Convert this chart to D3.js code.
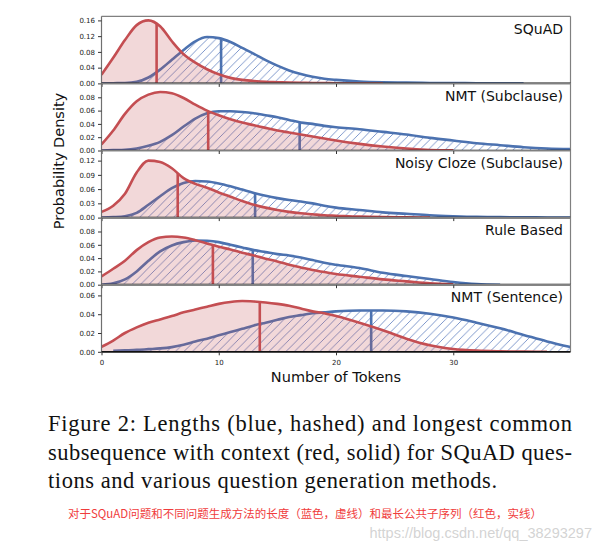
<!DOCTYPE html>
<html><head><meta charset="utf-8">
<script src="https://cdn.jsdelivr.net/npm/d3@7"></script>
<style>body{margin:0;background:#fff} svg{display:block}</style>
</head><body>
<svg id="c" width="599" height="544"></svg>
<script>
// ---------- data ----------
const tokens = [0,1,2,3,4,5,6,7,8,9,10,11,12,13,14,15,16,17,18,19,20,22,24,26,28,30,32,34,36,38,40];
const panelNames = ["SQuAD", "NMT (Subclause)", "Noisy Cloze (Subclause)", "Rule Based", "NMT (Sentence)"];

// Lengths (blue, hashed)
const squadLength   = [0,0.0005,0.001,0.004,0.015,0.035,0.06,0.085,0.107,0.118,0.115,0.105,0.09,0.075,0.059,0.045,0.033,0.024,0.017,0.012,0.009,0.005,0.003,0.002,0.0012,0.0008,0.0005,0.0003,0.0001,null,null];
const nmtSubLength  = [0,0.0005,0.001,0.003,0.007,0.013,0.023,0.036,0.048,0.056,0.059,0.059,0.058,0.056,0.053,0.05,0.046,0.042,0.04,0.037,0.035,0.032,0.028,0.024,0.019,0.015,0.011,0.008,0.005,0.003,0.002];
const clozeLength   = [0,0.001,0.003,0.01,0.027,0.045,0.062,0.073,0.077,0.076,0.072,0.066,0.059,0.052,0.046,0.041,0.037,0.034,0.03,0.025,0.021,0.016,0.011,0.008,0.005,0.003,0.0015,0.001,0.0005,0.0003,0.0002];
const ruleLength    = [0,0.002,0.008,0.02,0.036,0.05,0.059,0.064,0.0665,0.066,0.064,0.06,0.056,0.052,0.049,0.046,0.044,0.041,0.037,0.033,0.03,0.025,0.018,0.013,0.0085,0.004,0.001,0,null,null,null];
const nmtSentLength = [null,0.001,0.0015,0.002,0.0028,0.0036,0.005,0.0075,0.011,0.014,0.0175,0.021,0.0245,0.028,0.031,0.034,0.037,0.039,0.041,0.042,0.043,0.044,0.044,0.043,0.0405,0.0365,0.031,0.025,0.018,0.011,0.005];

// Longest common subsequence with context (red, solid)
const squadLcs   = [0.022,0.065,0.11,0.148,0.16,0.145,0.107,0.074,0.053,0.036,0.023,0.014,0.009,0.006,0.004,0.003,0.002,0.0015,0.001,0.0008,0.0005,0.0003,0.0001,null,null,null,null,null,null,null,null];
const nmtSubLcs  = [0.009,0.03,0.055,0.074,0.084,0.088,0.086,0.079,0.069,0.06,0.053,0.047,0.042,0.038,0.034,0.03,0.027,0.024,0.021,0.018,0.015,0.01,0.006,0.003,0.0008,0.0003,null,null,null,null,null];
const clozeLcs   = [0.012,0.025,0.05,0.095,0.12,0.117,0.104,0.083,0.071,0.063,0.053,0.044,0.035,0.027,0.021,0.016,0.012,0.009,0.007,0.005,0.004,0.002,0.001,0.0005,0.0002,null,null,null,null,null,null];
const ruleLcs    = [0.0125,0.024,0.036,0.052,0.064,0.071,0.0725,0.071,0.067,0.062,0.057,0.053,0.048,0.044,0.039,0.035,0.03,0.026,0.022,0.019,0.016,0.012,0.008,0.005,0.002,0.0005,null,null,null,null,null];
const nmtSentLcs = [0.0053,0.012,0.02,0.026,0.031,0.0345,0.038,0.042,0.045,0.048,0.051,0.053,0.054,0.0535,0.0525,0.051,0.049,0.046,0.043,0.041,0.038,0.031,0.023,0.014,0.007,0.003,0.0012,0.0005,0.0002,0.0001,null];

const lengthSeries = [squadLength, nmtSubLength, clozeLength, ruleLength, nmtSentLength];
const lcsSeries    = [squadLcs, nmtSubLcs, clozeLcs, ruleLcs, nmtSentLcs];
const lengthMedians = [10.2, 16.9, 13.1, 12.9, 23.0];
const lcsMedians    = [4.7, 9.1, 6.5, 9.5, 13.5];

const yMax   = [0.1704, 0.1009, 0.1413, 0.1009, 0.0714];
const yTicks = [[0,0.04,0.08,0.12,0.16],[0,0.02,0.04,0.06,0.08],[0,0.03,0.06,0.09,0.12],[0,0.02,0.04,0.06,0.08],[0,0.02,0.04,0.06]];
const xTicks = [0,10,20,30];

const captionLines = [
  "Figure 2: Lengths (blue, hashed) and longest common",
  "subsequence with context (red, solid) for SQuAD ques-",
  "tions and various question generation methods."
];
const noteText = "对于SQuAD问题和不同问题生成方法的长度（蓝色，虚线）和最长公共子序列（红色，实线）";
const watermark = "https://blog.csdn.net/qq_38293297";

// ---------- drawing ----------
const BLUE = "#4c72b0", RED = "#c44e52";
const svg = d3.select("#c");
const L = 101.5, R = 570.5, T = 16.3, H = 67.1;
const x = d3.scaleLinear().domain([0, 40]).range([L, R]);

const defs = svg.append("defs");
const pat = defs.append("pattern").attr("id", "hatch")
  .attr("patternUnits", "userSpaceOnUse").attr("width", 8.5).attr("height", 8.5);
pat.append("path").attr("d", "M-2,2 L2,-2 M0,8.5 L8.5,0 M6.5,10.5 L10.5,6.5")
  .attr("stroke", "#5577bb").attr("stroke-width", 0.75).attr("fill", "none");

function yOnPath(node, px) {
  const len = node.getTotalLength();
  let lo = 0, hi = len;
  for (let k = 0; k < 40; k++) {
    const mid = (lo + hi) / 2;
    if (node.getPointAtLength(mid).x < px) lo = mid; else hi = mid;
  }
  return node.getPointAtLength((lo + hi) / 2).y;
}

panelNames.forEach((name, i) => {
  const top = T + i * H, bottom = top + H;
  const y = d3.scaleLinear().domain([0, yMax[i]]).range([bottom, top]);
  const g = svg.append("g");
  defs.append("clipPath").attr("id", "clip" + i).append("rect")
    .attr("x", L).attr("y", top).attr("width", R - L).attr("height", H);
  const pg = g.append("g").attr("clip-path", `url(#clip${i})`);

  const mk = arr => tokens.map((t, j) => ({ t, v: arr[j] })).filter(d => d.v != null);
  const area = d3.area().x(d => x(d.t)).y0(bottom).y1(d => y(d.v)).curve(d3.curveMonotoneX);
  const line = d3.line().x(d => x(d.t)).y(d => y(d.v)).curve(d3.curveMonotoneX);

  const bl = mk(lengthSeries[i]), rd = mk(lcsSeries[i]);

  pg.append("path").datum(bl).attr("d", area).attr("fill", "url(#hatch)");
  const bLine = pg.append("path").datum(bl).attr("d", line)
    .attr("fill", "none").attr("stroke", BLUE).attr("stroke-width", 2.6);
  const bx = x(lengthMedians[i]);
  pg.append("line").attr("x1", bx).attr("x2", bx).attr("y1", bottom)
    .attr("y2", yOnPath(bLine.node(), bx)).attr("stroke", BLUE).attr("stroke-width", 2.6);

  pg.append("path").datum(rd).attr("d", area).attr("fill", RED).attr("fill-opacity", 0.22);
  const rLine = pg.append("path").datum(rd).attr("d", line)
    .attr("fill", "none").attr("stroke", RED).attr("stroke-width", 2.6);
  const rx = x(lcsMedians[i]);
  pg.append("line").attr("x1", rx).attr("x2", rx).attr("y1", bottom)
    .attr("y2", yOnPath(rLine.node(), rx)).attr("stroke", RED).attr("stroke-width", 2.6);

  // spines
  g.append("line").attr("x1", L).attr("x2", R).attr("y1", top).attr("y2", top).attr("stroke", "#808080").attr("stroke-width", 1.2);
  g.append("line").attr("x1", R).attr("x2", R).attr("y1", top).attr("y2", bottom).attr("stroke", "#808080").attr("stroke-width", 1.2);
  g.append("line").attr("x1", L).attr("x2", L).attr("y1", top).attr("y2", bottom).attr("stroke", "#707070").attr("stroke-width", 1.2);
  g.append("line").attr("x1", L).attr("x2", R).attr("y1", bottom).attr("y2", bottom).attr("stroke", "#111").attr("stroke-width", 1.7);

  // y axis
  const yAxis = d3.axisLeft(y).tickValues(yTicks[i]).tickFormat(d3.format(".2f")).tickSize(3.5).tickPadding(3);
  const ya = g.append("g").attr("transform", `translate(${L},0)`).call(yAxis);
  ya.select(".domain").remove();
  ya.selectAll("line").attr("stroke", "#333");
  ya.selectAll("text").attr("font-family", "DejaVu Sans").attr("font-size", 7).attr("fill", "#222");

  // x axis
  const xAxis = d3.axisBottom(x).tickValues(xTicks).tickSize(3.5).tickPadding(5);
  const xa = g.append("g").attr("transform", `translate(0,${bottom})`).call(xAxis);
  xa.select(".domain").remove();
  xa.selectAll("line").attr("stroke", "#333");
  xa.selectAll("text").attr("font-family", "DejaVu Sans").attr("font-size", 7).attr("fill", "#222")
    .style("display", i === panelNames.length - 1 ? null : "none");

  g.append("text").attr("x", 563).attr("y", top + 17.5).attr("text-anchor", "end")
    .attr("font-family", "DejaVu Sans").attr("font-size", 14).attr("fill", "#111").text(name);
});

svg.append("text").attr("transform", "translate(64,161) rotate(-90)").attr("text-anchor", "middle")
  .attr("font-family", "DejaVu Sans").attr("font-size", 14.5).attr("fill", "#111").text("Probability Density");
svg.append("text").attr("x", 336).attr("y", 382).attr("text-anchor", "middle")
  .attr("font-family", "DejaVu Sans").attr("font-size", 14.5).attr("fill", "#111").text("Number of Tokens");

const capY = [431, 459.5, 488];
const capLen = [524, 524, 449];
captionLines.forEach((t, k) => {
  svg.append("text").attr("x", 48).attr("y", capY[k])
    .attr("font-family", "Liberation Serif").attr("font-size", 22.5).attr("fill", "#111")
    .attr("textLength", capLen[k]).attr("lengthAdjust", "spacing").text(t);
});
svg.append("text").attr("x", 592).attr("y", 538).attr("text-anchor", "end")
  .attr("font-family", "Liberation Sans").attr("font-size", 14.5).attr("fill", "#c8c8c8").attr("fill-opacity", 0.8)
  .text(watermark);
svg.append("text").attr("x", 68).attr("y", 518)
  .attr("font-family", "Noto Sans CJK SC").attr("font-size", 11.5).attr("fill", "#f03c3c")
  .attr("textLength", 474).attr("lengthAdjust", "spacingAndGlyphs").text(noteText);
</script>
</body></html>
